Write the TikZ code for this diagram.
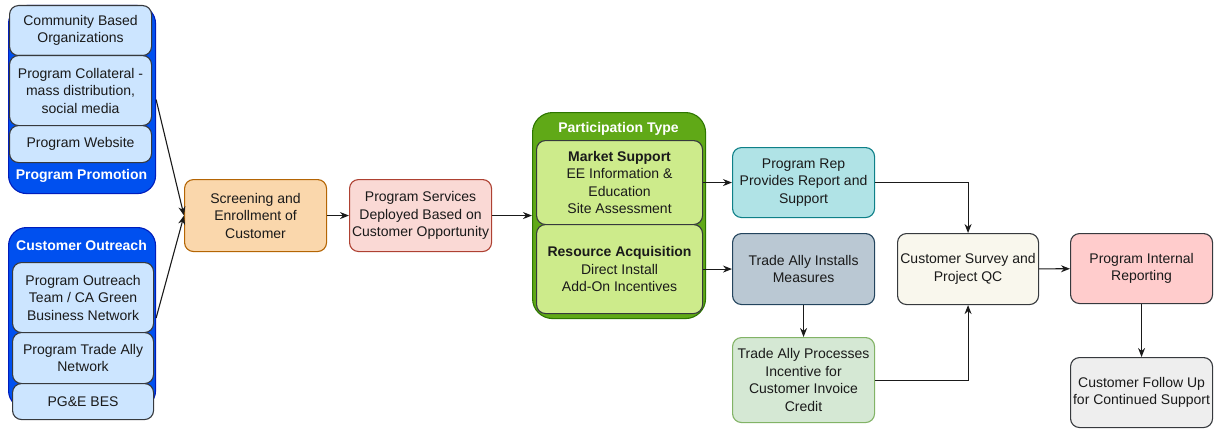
\documentclass[tikz,border=0pt]{standalone}
\usepackage{fontspec}
\setmainfont{Liberation Sans}
\usetikzlibrary{arrows.meta}

\definecolor{txt}{HTML}{1A1A1A}
\definecolor{edge}{HTML}{36393D}
\definecolor{blueFill}{HTML}{0050EF}
\definecolor{blueLine}{HTML}{001DBC}
\definecolor{paleBlue}{HTML}{CCE5FF}
\definecolor{greenFill}{HTML}{60A917}
\definecolor{greenLine}{HTML}{2D7600}
\definecolor{lime}{HTML}{CDEB8B}
\definecolor{orangeFill}{HTML}{FAD7AC}
\definecolor{orangeLine}{HTML}{B46504}
\definecolor{roseFill}{HTML}{FAD9D5}
\definecolor{roseLine}{HTML}{AE4132}
\definecolor{tealFill}{HTML}{B0E3E6}
\definecolor{tealLine}{HTML}{0E8088}
\definecolor{slateFill}{HTML}{BAC8D3}
\definecolor{slateLine}{HTML}{23445D}
\definecolor{mintFill}{HTML}{D5E8D4}
\definecolor{mintLine}{HTML}{82B366}
\definecolor{creamFill}{HTML}{F9F7ED}
\definecolor{pinkFill}{HTML}{FFCCCC}
\definecolor{greyFill}{HTML}{EEEEEE}

\tikzset{
  base/.style={rectangle, rounded corners=9pt, line width=1.1pt, anchor=north west,
    align=center, inner sep=1pt, text=txt,
    font=\fontsize{14}{17.5}\selectfont},
  box/.style={base, draw=#1},
  group/.style={rectangle, rounded corners=18pt, line width=1.1pt, anchor=north west},
  title/.style={text=white, font=\fontsize{14}{17}\selectfont\bfseries},
  flow/.style={draw=txt, line width=1.1pt, -{Stealth[length=9pt,width=7pt]}},
}

\begin{document}
\begin{tikzpicture}[x=1pt,y=-1pt]
\useasboundingbox (0,0) rectangle (1217,428);

% Program Promotion group
\node[group, fill=blueFill, draw=blueLine, minimum width=147, minimum height=188] (promo) at (8,5) {};
\node[box=edge, fill=paleBlue, minimum width=142, minimum height=50] (cbo) at (9,5) {Community Based\\Organizations};
\node[box=edge, fill=paleBlue, minimum width=142, minimum height=70] (collat) at (9,55) {Program Collateral -\\mass distribution,\\social media};
\node[box=edge, fill=paleBlue, minimum width=142, minimum height=37] (web) at (9,125) {Program Website};
\node[title] (promoT) at (81.5,175.5) {Program Promotion};

% Customer Outreach group
\node[group, fill=blueFill, draw=blueLine, minimum width=147, minimum height=181] (outreach) at (8,227) {};
\node[title] (outreachT) at (81.5,245) {Customer Outreach};
\node[box=edge, fill=paleBlue, minimum width=141, minimum height=70] (team) at (12,262) {Program Outreach\\Team / CA Green\\Business Network};
\node[box=edge, fill=paleBlue, minimum width=141, minimum height=51] (ally) at (12,332) {Program Trade Ally\\Network};
\node[box=edge, fill=paleBlue, minimum width=141, minimum height=36] (bes) at (12,383) {PG\&E BES};

% Enrollment and services
\node[box=orangeLine, fill=orangeFill, minimum width=142, minimum height=72] (screen) at (184,179) {Screening and\\Enrollment of\\Customer};
\node[box=roseLine, fill=roseFill, minimum width=142, minimum height=72] (services) at (349,179) {Program Services\\Deployed Based on\\Customer Opportunity};

% Participation Type group
\node[group, rounded corners=20pt, fill=greenFill, draw=greenLine, minimum width=173, minimum height=206] (partic) at (532,112) {};
\node[title] (particT) at (618.5,129) {Participation Type};
\node[box=edge, fill=lime, minimum width=166, minimum height=84] (market) at (536,140)
  {\textbf{Market Support}\\EE Information \&\\Education\\Site Assessment};
\node[box=edge, fill=lime, minimum width=166, minimum height=89] (resource) at (536,224)
  {\textbf{Resource Acquisition}\\Direct Install\\Add-On Incentives};

% Delivery steps
\node[box=tealLine, fill=tealFill, minimum width=142, minimum height=70] (rep) at (732,147) {Program Rep\\Provides Report and\\Support};
\node[box=slateLine, fill=slateFill, minimum width=142, minimum height=71] (installs) at (732,233) {Trade Ally Installs\\Measures};
\node[box=mintLine, fill=mintFill, minimum width=142, minimum height=85] (processes) at (732,337) {Trade Ally Processes\\Incentive for\\Customer Invoice\\Credit};
\node[box=edge, fill=creamFill, minimum width=141, minimum height=71] (survey) at (897,233) {Customer Survey and\\Project QC};
\node[box=edge, fill=pinkFill, minimum width=142, minimum height=70] (internal) at (1070,233) {Program Internal\\Reporting};
\node[box=edge, fill=greyFill, minimum width=142, minimum height=70] (followup) at (1070,357) {Customer Follow Up\\for Continued Support};

% Connectors
\draw[flow] (promo.east) -- (screen.west);
\draw[flow] (outreach.east) -- (screen.west);
\draw[flow] (screen) -- (services);
\draw[flow] (services.east) -- (partic.west);
\draw[flow] (market.east) -- (rep.west);
\draw[flow] (resource.east) -- (installs.west);
\draw[flow] (installs) -- (processes);
\draw[flow] (rep.east) -| (survey.north);
\draw[flow] (processes.east) -| (survey.south);
\draw[flow] (survey) -- (internal);
\draw[flow] (internal) -- (followup);
\end{tikzpicture}
\end{document}
